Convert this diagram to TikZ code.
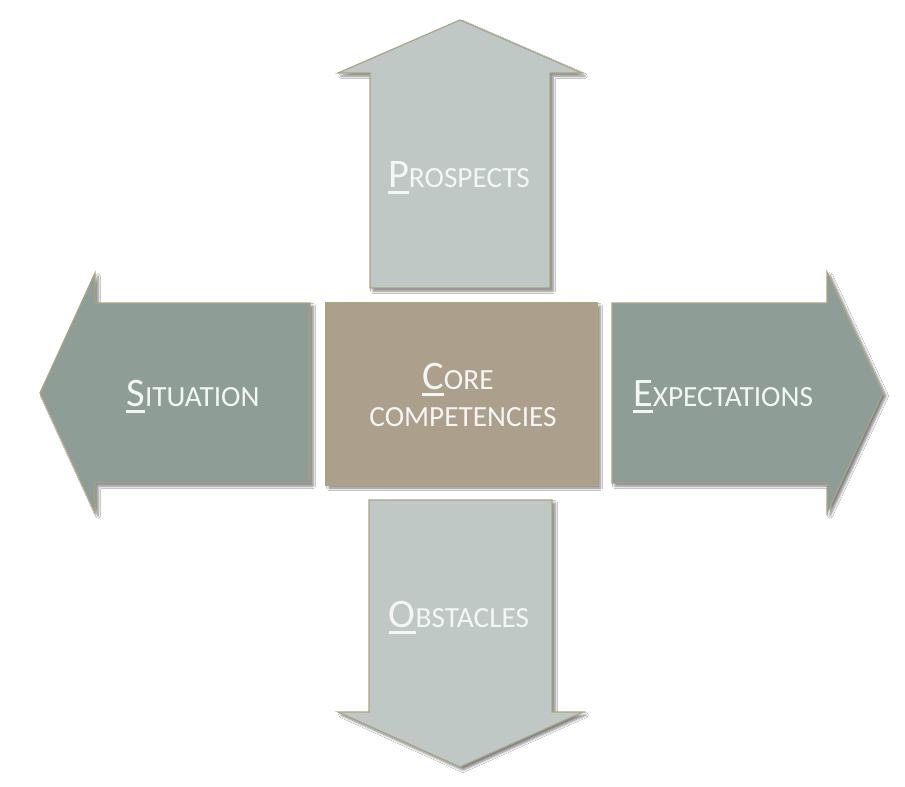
\documentclass[tikz,border=0pt]{standalone}
\usepackage{fontspec}
\setmainfont{Carlito}
\usetikzlibrary{shadows.blur}
\definecolor{paleSage}{HTML}{BFC8C4}
\definecolor{darkSage}{HTML}{8E9E97}
\definecolor{coreTan}{HTML}{AC9F8B}
\definecolor{rimKhaki}{HTML}{A8A486}
\definecolor{labelWhite}{HTML}{F4F6F5}
\newcommand\leadcap[1]{{\fontsize{40.5}{40.5}\selectfont\setbox0\hbox{#1}\rlap{\rule[-7pt]{\wd0}{3pt}}\box0}}
\newcommand\restcaps[1]{{\fontsize{29.3}{29.3}\selectfont #1}}
\begin{document}
\begin{tikzpicture}[x=1pt,y=-1pt,
  blockshape/.style={draw=rimKhaki,line width=1.2pt,line join=miter,
    blur shadow={shadow xshift=3pt,shadow yshift=-3pt,shadow blur steps=6,shadow blur radius=2.5pt,shadow opacity=50}},
  pale/.style={blockshape,fill=paleSage},
  dark/.style={blockshape,fill=darkSage},
  core/.style={blockshape,fill=coreTan},
  word/.style={anchor=base,text=labelWhite,inner sep=0pt}]
\useasboundingbox[fill=white] (0,0) rectangle (905,787);
% arrows
\path[pale] (370,288) -- (370,73) -- (338,73) -- (460,20) -- (582,73) -- (550,73) -- (550,288) -- cycle;
\path[pale] (369,500) -- (552,500) -- (552,712) -- (583,712) -- (460,767) -- (338,712) -- (369,712) -- cycle;
\path[dark] (310,303) -- (95,303) -- (95,273) -- (40,393) -- (95,513) -- (95,483) -- (310,483) -- cycle;
\path[dark] (612,303) -- (827,303) -- (827,272) -- (883,393) -- (827,513) -- (827,483) -- (612,483) -- cycle;
\path[core] (326,303) rectangle (597,485);
% labels
\node[word] (prospects) at (459,187) {\leadcap{P}\restcaps{ROSPECTS}};
\node[word] (situation) at (193,406) {\leadcap{S}\restcaps{ITUATION}};
\node[word] (expect) at (723,406) {\leadcap{E}\restcaps{XPECTATIONS}};
\node[word] (core) at (458,389) {\leadcap{C}\restcaps{ORE}};
\node[word] (compet) at (463,426) {\restcaps{COMPETENCIES}};
\node[word] (obstacles) at (459,627) {\leadcap{O}\restcaps{BSTACLES}};
\end{tikzpicture}
\end{document}
